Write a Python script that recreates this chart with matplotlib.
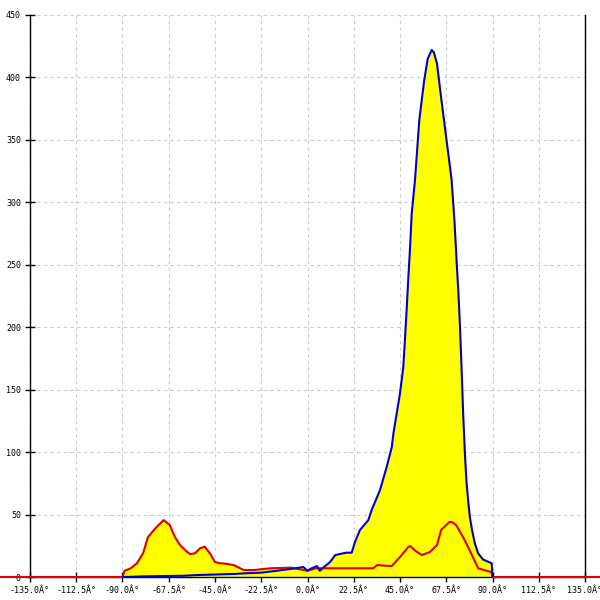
import matplotlib
matplotlib.use("Agg")
import matplotlib.pyplot as plt

# angle / value pairs
blue_x = [-90, -80, -70, -60, -55, -45, -35, -30, -22.5, -15, -8, -2, 0, 2, 4.6, 6, 8,
          11, 13.5, 16, 19, 21.5, 23.1, 25.5, 28.8, 29.6, 31.2, 35.3, 38.5, 41.0, 41.8,
          43.4, 45.0, 46.6, 47.4, 48.3, 49.0, 49.9, 50.7, 52.3, 54.4, 56.8, 58.5, 60.4,
          61.5, 63, 65, 67, 69.5, 70.1, 71.5, 72.6, 73.5, 74.2, 75.0, 75.8, 76.6, 77.4,
          78.4, 79.0, 80, 81.4, 83, 85.4, 89.6, 90]
blue_y = [0, 0.5, 0.8, 1, 1.5, 2, 2.5, 3, 3.5, 5, 6.5, 8, 5, 7, 8.8, 5, 8,
          12, 17.6, 18.5, 19.5, 19.5, 28, 37.6, 44, 45.6, 53.6, 69.7, 88, 104, 115,
          131, 147, 168, 190, 216, 238, 264, 291, 318, 366, 398, 415, 422,
          420, 411, 384, 358, 326, 318, 285, 251, 225, 200, 165, 128, 98, 75,
          57, 48, 38, 27, 19, 14, 11, 0]

red_x = [-150, -90, -89, -86, -83, -80, -77.6, -74, -70, -67, -64.5, -62, -59.6, -57.2,
         -54.7, -52.3, -50, -47.5, -45, -42.6, -40, -36, -31, -26, -18, -8, 0, 4, 15,
         25, 32, 34, 38, 41, 45, 49, 50, 52.5, 55.5, 59.5, 63, 65, 69, 70.3, 72.3, 76,
         79.6, 83, 86, 89.5, 90, 150]
red_y = [0, 0, 5, 7, 11, 19, 32, 39, 45.6, 41.6, 32, 25.6, 21.6, 18.4,
         19, 23, 24.3, 19, 12, 11, 10.7, 9.6, 5.6, 5.6, 7, 7.5, 5, 7, 7,
         7, 7, 9.6, 9, 8.8, 16, 24, 24.8, 21, 17.6, 20, 25.6, 37.6, 44, 44, 41.6, 31,
         19, 7, 5.5, 4, 0, 0]

x_ticks = [-135 + 22.5 * i for i in range(13)]
y_ticks = list(range(0, 451, 50))

plt.rcParams["font.family"] = ["DejaVu Sans Mono", "DejaVu Sans"]

fig = plt.figure(figsize=(6, 6), dpi=100)
ax = fig.add_axes([0.05, 0.0383, 0.925, 0.9367])

ax.fill_between(blue_x, blue_y, 0, color="#ffff00", linewidth=0, zorder=2)
ax.fill_between(red_x, red_y, 0, color="#ffff00", linewidth=0, zorder=2)
ax.plot(red_x, red_y, color="#e00000", lw=1.5, zorder=3, clip_on=False)
ax.plot(blue_x, blue_y, color="#0000c8", lw=1.5, zorder=4)

ax.set_xlim(-135, 135)
ax.set_ylim(0, 450)
ax.set_xticks(x_ticks)
ax.set_xticklabels([f"{v:.1f}Â°" for v in x_ticks])
ax.set_yticks(y_ticks)
ax.set_yticklabels([str(v) for v in y_ticks])

ax.grid(True, color="#cccccc", linestyle=(0, (3, 3)), linewidth=0.8, zorder=1)
ax.spines["top"].set_visible(False)
for s in ("left", "right", "bottom"):
    ax.spines[s].set_color("black")
    ax.spines[s].set_linewidth(1)
ax.tick_params(axis="both", direction="inout", length=7, width=1,
               labelsize=6, pad=3, colors="black")

fig.savefig("out.png", dpi=100)
